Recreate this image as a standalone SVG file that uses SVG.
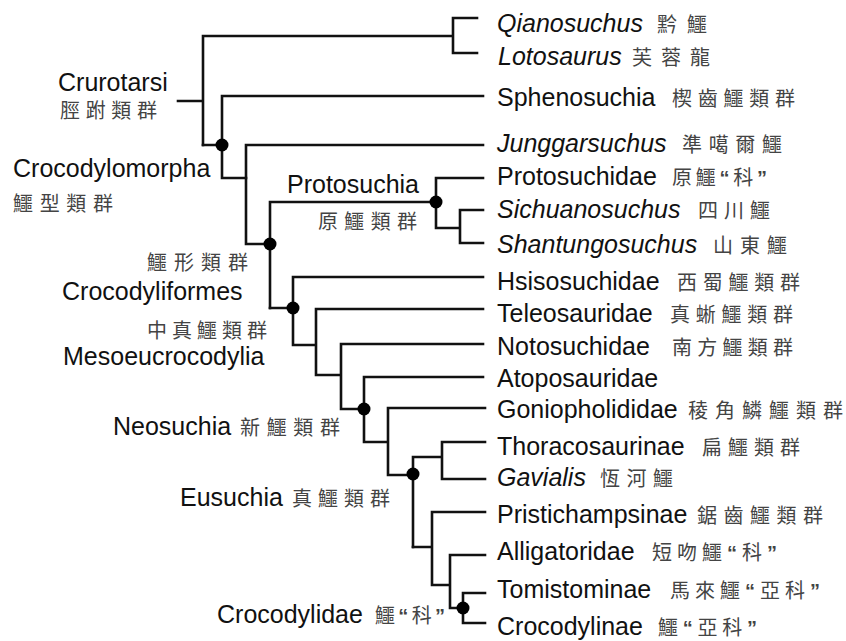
<svg xmlns="http://www.w3.org/2000/svg" width="846" height="641" viewBox="0 0 846 641">
<style>
.en{font-family:"Liberation Sans",Arial,sans-serif;font-size:25px;fill:#111}
.it{font-style:italic}
.zh{font-family:"Noto Sans CJK TC","Noto Sans CJK SC",sans-serif;font-size:20px;fill:#444}
.q{font-family:"Liberation Sans",Arial,sans-serif;font-weight:bold}
.ln{fill:none;stroke:#111;stroke-width:2.6;stroke-linecap:square;stroke-linejoin:miter}
.dot{fill:#000}
</style>
<rect width="846" height="641" fill="#fff"/>
<g id="connectors" class="ln">
<path d="M178,101H203M203,36V145M203,36H453M453,18V53M453,18H477M453,53H477"/>
<path d="M203,145H222M222,96V178M222,96H483M222,178H246"/>
<path d="M246,145V244M246,145H483M246,244H270"/>
<path d="M270,202V308M270,202H436M436,178V228M436,178H483M436,228H460M460,210V243M460,210H483M460,243H483"/>
<path d="M270,308H293M293,277V345M293,277H483M293,345H316M316,309V375M316,309H483M316,375H341M341,344V409M341,344H483M341,409H364"/>
<path d="M364,377V442M364,377H483M364,442H388M388,408V475M388,408H485M388,475H413"/>
<path d="M413,457V547M413,457H442M442,442V479M442,442H485M442,479H485"/>
<path d="M413,547H432M432,512V585M432,512H485M432,585H450M450,555V608M450,555H485M450,608H463M463,593V623M463,593H485M463,623H485"/>
</g>
<g id="dots">
<circle class="dot" cx="222" cy="145" r="6.5"/>
<circle class="dot" cx="270" cy="244" r="6.5"/>
<circle class="dot" cx="293" cy="308" r="6.5"/>
<circle class="dot" cx="436" cy="202" r="6.5"/>
<circle class="dot" cx="364" cy="409" r="6.5"/>
<circle class="dot" cx="413" cy="474" r="6.5"/>
<circle class="dot" cx="463" cy="608" r="6.5"/>
</g>
<g id="clade-labels">
<g id="crurotarsi"><text class="en" x="58" y="91">Crurotarsi</text><text class="zh" x="60" y="118" textLength="97">脛跗類群</text></g>
<g id="crocodylomorpha"><text class="en" x="13" y="177">Crocodylomorpha</text><text class="zh" x="13" y="211" textLength="100">鱷型類群</text></g>
<g id="protosuchia"><text class="en" x="287" y="193">Protosuchia</text><text class="zh" x="318" y="229" textLength="99">原鱷類群</text></g>
<g id="crocodyliformes"><text class="zh" x="147" y="270" textLength="101">鱷形類群</text><text class="en" x="62" y="300">Crocodyliformes</text></g>
<g id="mesoeucrocodylia"><text class="zh" x="147" y="338" textLength="120">中真鱷類群</text><text class="en" x="63" y="365">Mesoeucrocodylia</text></g>
<g id="neosuchia"><text class="en" x="113" y="435">Neosuchia</text><text class="zh" x="240" y="435" textLength="100">新鱷類群</text></g>
<g id="eusuchia"><text class="en" x="180" y="506">Eusuchia</text><text class="zh" x="292" y="506" textLength="98">真鱷類群</text></g>
<g id="crocodylidae"><text class="en" x="217" y="623">Crocodylidae</text><text class="zh" x="375" y="623" textLength="70">鱷<tspan class="q">“</tspan>科<tspan class="q">”</tspan></text></g>
</g>
<g id="taxa">
<g id="qianosuchus"><text class="en it" x="497" y="32">Qianosuchus</text><text class="zh" x="657" y="32" textLength="50">黔鱷</text></g>
<g id="lotosaurus"><text class="en it" x="498" y="65">Lotosaurus</text><text class="zh" x="632" y="65" textLength="78">芙蓉龍</text></g>
<g id="sphenosuchia"><text class="en" x="497" y="106">Sphenosuchia</text><text class="zh" x="672" y="106" textLength="123">楔齒鱷類群</text></g>
<g id="junggarsuchus"><text class="en it" x="497" y="152">Junggarsuchus</text><text class="zh" x="682" y="152" textLength="100">準噶爾鱷</text></g>
<g id="protosuchidae"><text class="en" x="497" y="185">Protosuchidae</text><text class="zh" x="672" y="185" textLength="95">原鱷<tspan class="q">“</tspan>科<tspan class="q">”</tspan></text></g>
<g id="sichuanosuchus"><text class="en it" x="497" y="218">Sichuanosuchus</text><text class="zh" x="698" y="218" textLength="72">四川鱷</text></g>
<g id="shantungosuchus"><text class="en it" x="497" y="253">Shantungosuchus</text><text class="zh" x="713" y="253" textLength="74">山東鱷</text></g>
<g id="hsisosuchidae"><text class="en" x="497" y="290">Hsisosuchidae</text><text class="zh" x="677" y="290" textLength="123">西蜀鱷類群</text></g>
<g id="teleosauridae"><text class="en" x="497" y="322">Teleosauridae</text><text class="zh" x="670" y="322" textLength="123">真蜥鱷類群</text></g>
<g id="notosuchidae"><text class="en" x="497" y="355">Notosuchidae</text><text class="zh" x="672" y="355" textLength="121">南方鱷類群</text></g>
<g id="atoposauridae"><text class="en" x="497" y="387">Atoposauridae</text></g>
<g id="goniopholididae"><text class="en" x="497" y="418">Goniopholididae</text><text class="zh" x="688" y="418" textLength="155">稜角鱗鱷類群</text></g>
<g id="thoracosaurinae"><text class="en" x="497" y="455">Thoracosaurinae</text><text class="zh" x="702" y="455" textLength="98">扁鱷類群</text></g>
<g id="gavialis"><text class="en it" x="497" y="486">Gavialis</text><text class="zh" x="600" y="486" textLength="73">恆河鱷</text></g>
<g id="pristichampsinae"><text class="en" x="497" y="523">Pristichampsinae</text><text class="zh" x="697" y="523" textLength="126">鋸齒鱷類群</text></g>
<g id="alligatoridae"><text class="en" x="497" y="560">Alligatoridae</text><text class="zh" x="652" y="560" textLength="125">短吻鱷<tspan class="q">“</tspan>科<tspan class="q">”</tspan></text></g>
<g id="tomistominae"><text class="en" x="497" y="598">Tomistominae</text><text class="zh" x="670" y="598" textLength="150">馬來鱷<tspan class="q">“</tspan>亞科<tspan class="q">”</tspan></text></g>
<g id="crocodylinae"><text class="en" x="497" y="635">Crocodylinae</text><text class="zh" x="658" y="635" textLength="99">鱷<tspan class="q">“</tspan>亞科<tspan class="q">”</tspan></text></g>
</g>
</svg>
